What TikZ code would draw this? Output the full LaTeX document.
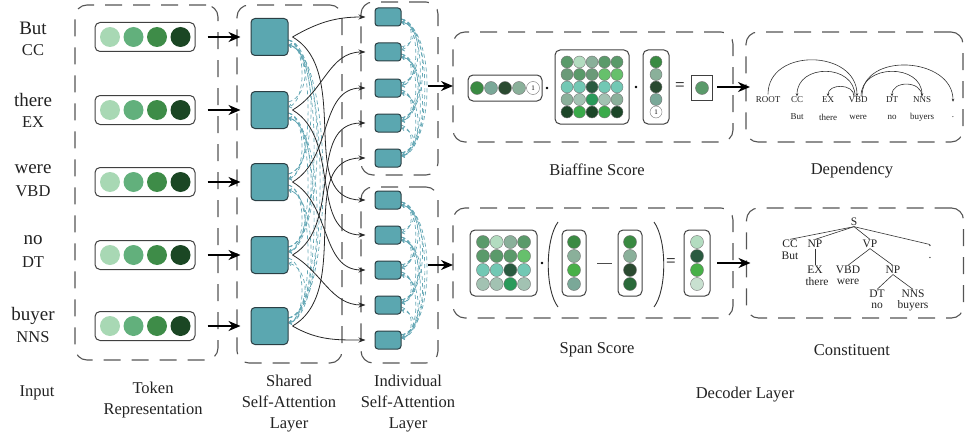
\documentclass[tikz,border=0pt]{standalone}
\usepackage{fontspec}
\setmainfont{Liberation Serif}
\usetikzlibrary{arrows.meta}
\definecolor{tk1}{HTML}{A8D8B4}
\definecolor{tk2}{HTML}{62B07C}
\definecolor{tk3}{HTML}{3E8C48}
\definecolor{tk4}{HTML}{1B4724}
\definecolor{gA}{HTML}{5A9A6A}
\definecolor{gB}{HTML}{B3DCC0}
\definecolor{gC}{HTML}{8AB09A}
\definecolor{gD}{HTML}{66C06C}
\definecolor{gE}{HTML}{72C8B4}
\definecolor{gF}{HTML}{2A5A40}
\definecolor{gG}{HTML}{A2C2B2}
\definecolor{gH}{HTML}{2A9A5A}
\definecolor{gI}{HTML}{1C4628}
\definecolor{gJ}{HTML}{3AAA4A}
\definecolor{gK}{HTML}{3A8A42}
\definecolor{gL}{HTML}{7AA898}
\definecolor{gM}{HTML}{2A4A30}
\definecolor{gN}{HTML}{C8E0D0}
\definecolor{gO}{HTML}{48B048}
\definecolor{gP}{HTML}{2A6A3A}
\definecolor{gQ}{HTML}{6A9A78}
\definecolor{sqfill}{HTML}{5BA7B0}
\definecolor{sqline}{HTML}{2B3F44}
\definecolor{attc}{HTML}{62A6B4}
\definecolor{dashc}{HTML}{555555}
\definecolor{txt}{HTML}{222222}
\begin{document}
\begin{tikzpicture}[x=1pt,y=-1pt,
  dbox/.style={draw=dashc, line width=1.1pt, dash pattern=on 17pt off 11pt, rounded corners=12pt, inner sep=0pt, outer sep=0pt},
  vecbox/.style={draw=black!75, line width=1pt, rounded corners=5pt, inner sep=0pt},
  tball/.style={circle, inner sep=0pt, minimum size=20pt},
  ball/.style={circle, draw=black!55, line width=0.4pt, inner sep=0pt, minimum size=12pt},
  sball/.style={circle, draw=black!55, line width=0.4pt, inner sep=0pt, minimum size=13pt},
  sq/.style={draw=sqline, fill=sqfill, rounded corners=4pt, line width=1pt, minimum width=37pt, minimum height=37pt, inner sep=0pt},
  isq/.style={draw=sqline, fill=sqfill, rounded corners=3pt, line width=1pt, minimum width=26pt, minimum height=18pt, inner sep=0pt},
  conn/.style={-{Stealth[length=7pt,width=5pt]}, line width=0.8pt, black!85},
  big/.style={-{Stealth[length=12pt,width=10pt]}, line width=1.6pt, black},
  att/.style={draw=attc, dash pattern=on 4pt off 3pt, line width=0.7pt, -{Straight Barb[length=2.5pt,width=4pt]}},
  word/.style={font=\fontsize{19}{19}\selectfont, text=txt, inner sep=0pt},
  tag/.style={font=\fontsize{16.5}{16.5}\selectfont, text=txt, inner sep=0pt},
  lab/.style={font=\fontsize{16.5}{21}\selectfont, text=txt, align=center, inner sep=0pt},
  dtag/.style={font=\fontsize{9}{9}\selectfont, text=txt, inner sep=0.5pt},
  ctag/.style={font=\fontsize{11.5}{11.5}\selectfont, text=txt, inner sep=0.6pt},
  sym/.style={font=\fontsize{17}{17}\selectfont, inner sep=0pt},
  cdot/.style={circle, fill=black, inner sep=0pt, minimum size=2.6pt},
  tline/.style={line width=0.6pt, black!80},
  deparc/.style={line width=0.6pt, black!80, -{Stealth[length=3pt,width=2.6pt]}}
]
\useasboundingbox (0,0) rectangle (966,436);

% ---------- dashed group boxes ----------
\node[dbox, minimum width=143pt, minimum height=355pt] (tokbox) at (146.5,182.5) {};
\node[dbox, minimum width=105pt, minimum height=358pt] (shbox) at (289.5,184) {};
\node[dbox, minimum width=77pt, minimum height=173pt] (ubox) at (399.5,88.5) {};
\node[dbox, minimum width=77pt, minimum height=176pt] (lbox) at (399.5,275) {};
\node[dbox, minimum width=280pt, minimum height=110pt] (biabox) at (593,87) {};
\node[dbox, minimum width=280pt, minimum height=110pt] (spanbox) at (593,263) {};
\node[dbox, minimum width=217pt, minimum height=110pt] (depbox) at (854.5,87) {};
\node[dbox, minimum width=217pt, minimum height=110pt] (conbox) at (855,263) {};

% ---------- input words ----------
\node[word] (w1) at (33,28) {But};   \node[tag] (p1) at (33,50) {CC};
\node[word] (w2) at (33,100) {there}; \node[tag] (p2) at (33,122) {EX};
\node[word] (w3) at (33,169) {were};  \node[tag] (p3) at (33,191) {VBD};
\node[word] (w4) at (33,240) {no};    \node[tag] (p4) at (33,262) {DT};
\node[word] (w5) at (33,316) {buyer}; \node[tag] (p5) at (33,337) {NNS};

% ---------- token vectors ----------
\foreach \i/\y in {1/37,2/110,3/182,4/255,5/326} {
  \node[vecbox, minimum width=100pt, minimum height=29pt] (tv\i) at (145,\y) {};
  \foreach \c [count=\k from 0] in {tk1,tk2,tk3,tk4}
    \node[tball, fill=\c] (tc\i\k) at ({110+\k*23.5},\y) {};
}

% attention arcs (shared)
\foreach \i/\y in {1/37,2/110,3/182,4/255,5/326}
  \node[sq, draw=none, fill=none] (s\i) at (269.5,\y) {};
\foreach \i in {1,...,4} {
  \pgfmathtruncatemacro\ii{\i+1}
  \foreach \j in {\ii,...,5} {
    \pgfmathsetmacro\bb{10+8*(\j-\i)}
    \pgfmathsetmacro\bc{14+8*(\j-\i)}
    \draw[att] ([yshift=-3pt]s\i.east) .. controls +(\bb,6) and +(\bb,-6) .. ([yshift=3pt]s\j.east);
    \draw[att] ([yshift=8pt]s\j.east) .. controls +(\bc,-6) and +(\bc,6) .. ([yshift=-8pt]s\i.east);
  }
}
\foreach \i/\y in {1/37,2/110,3/182,4/255,5/326}
  \node[sq] (s\i) at (269.5,\y) {};

% individual squares
\foreach \i/\y in {1/17,2/52,3/88,4/123,5/158}
  \node[isq, draw=none, fill=none] (u\i) at (388,\y) {};
\foreach \i/\y in {1/200,2/235,3/270,4/305,5/340}
  \node[isq, draw=none, fill=none] (l\i) at (388,\y) {};
\foreach \p in {u,l} {
  \foreach \i in {1,...,4} {
    \pgfmathtruncatemacro\ii{\i+1}
    \foreach \j in {\ii,...,5} {
      \pgfmathsetmacro\bb{7+6*(\j-\i)}
      \pgfmathsetmacro\bc{10+6*(\j-\i)}
      \draw[att] ([yshift=-2pt]\p\i.east) .. controls +(\bb,4) and +(\bb,-4) .. ([yshift=2pt]\p\j.east);
      \draw[att] ([yshift=5pt]\p\j.east) .. controls +(\bc,-4) and +(\bc,4) .. ([yshift=-5pt]\p\i.east);
    }
  }
}
\foreach \i/\y in {1/17,2/52,3/88,4/123,5/158}
  \node[isq] (u\i) at (388,\y) {};
\foreach \i/\y in {1/200,2/235,3/270,4/305,5/340}
  \node[isq] (l\i) at (388,\y) {};

% token -> shared
\foreach \i in {1,...,5}
  \draw[big] ([xshift=12pt]tv\i.east) -- ([xshift=-10pt]s\i.west);

% shared -> individual
\foreach \i in {1,...,5} {
  \draw[conn] ([xshift=4pt]s\i.east) to[out=30,in=180] ([xshift=-9pt]u\i.west);
  \draw[conn] ([xshift=4pt]s\i.east) to[out=-30,in=180] ([xshift=-9pt]l\i.west);
}

% individual -> decoder
\coordinate (ua) at (428,86);
\coordinate (la) at (428,265);
\draw[big] (ua) -- (ua -| biabox.west);
\draw[big] (la) -- (la -| spanbox.west);

% ---------- Biaffine score ----------
\node[vecbox, minimum width=74pt, minimum height=26pt] (rv) at (505,88) {};
\foreach \c [count=\k from 0] in {gK,gL,gM,gC}
  \node[sball, fill=\c] (rvc\k) at ({477+\k*14},88) {};
\node[sball, fill=white, font=\fontsize{7}{7}\selectfont] (rvc4) at (533,88) {1};
\node[cdot] (dot1) at (547,88) {};
\node[vecbox, minimum width=74pt, minimum height=74pt] (bm) at (592,87) {};
\foreach \r/\cl in {0/{gA,gB,gC,gA,gA},1/{gQ,gA,gQ,gD,gD},2/{gE,gE,gF,gE,gE},3/{gC,gG,gH,gG,gC},4/{gI,gJ,gI,gJ,gI}} {
  \foreach \c [count=\k from 0] in \cl
    \node[ball, fill=\c] (bm\r\k) at ({592+(\k-2)*12.5},{87+(\r-2)*12.5}) {};
}
\node[cdot] (dot2) at (636,87) {};
\node[vecbox, minimum width=26pt, minimum height=74pt] (cv) at (656,87) {};
\foreach \c [count=\k from 0] in {gK,gC,gM,gL}
  \node[ball, fill=\c] (cvc\k) at (656,{62+\k*12.5}) {};
\node[ball, fill=white, font=\fontsize{7}{7}\selectfont] (cvc4) at (656,112) {1};
\node[sym] (eq1) at (680,87) {=};
\node[draw=black!75, line width=1pt, inner sep=0pt, minimum width=21pt, minimum height=25pt] (ob) at (702,88) {};
\node[sball, fill=gA] (obc) at (702,88) {};

% ---------- Span score ----------
\node[vecbox, minimum width=67pt, minimum height=66pt] (sm) at (503.5,263) {};
\foreach \r/\cl in {0/{gA,gB,gC,gA},1/{gA,gA,gA,gD},2/{gE,gE,gF,gE},3/{gG,gG,gH,gG}} {
  \foreach \c [count=\k from 0] in \cl
    \node[sball, fill=\c] (sm\r\k) at ({503.5+(\k-1.5)*13.7},{263+(\r-1.5)*14}) {};
}
\node[cdot] (dot3) at (542,263) {};
\draw[line width=0.9pt, black!80] (558,222) .. controls (545,240) and (545,290) .. (558,307);
\draw[line width=0.9pt, black!80] (654,222) .. controls (667,240) and (667,290) .. (654,307);
\node[vecbox, minimum width=24pt, minimum height=66pt] (sv1) at (574,263) {};
\foreach \c [count=\k from 0] in {gK,gC,gO,gL}
  \node[sball, fill=\c] (sv1c\k) at (574,{242+\k*14}) {};
\draw[line width=0.8pt, black!70] (597,263) -- (612,263);
\node[vecbox, minimum width=24pt, minimum height=66pt] (sv2) at (630,263) {};
\foreach \c [count=\k from 0] in {gK,gC,gM,gP}
  \node[sball, fill=\c] (sv2c\k) at (630,{242+\k*14}) {};
\node[sym] (eq2) at (671,263) {=};
\node[vecbox, minimum width=26pt, minimum height=66pt] (sv3) at (697,263) {};
\foreach \c [count=\k from 0] in {gB,gF,gO,gN}
  \node[sball, fill=\c] (sv3c\k) at (697,{242+\k*14}) {};

% decoder -> outputs
\draw[big] ([xshift=-16pt]biabox.east) -- ([xshift=4pt]depbox.west);
\draw[big] ([xshift=-16pt]spanbox.east) -- ([xshift=4pt]conbox.west);

% ---------- Dependency ----------
\foreach \n/\x/\t in {ROOT/768/ROOT,CC/797/CC,EX/828/EX,VBD/858/VBD,DT/892/DT,NNS/922/NNS,PU/953/.}
  \node[dtag] (d\n) at (\x,100) {\t};
\foreach \n/\x/\w in {CC/797/But,EX/828/there,VBD/858/were,DT/892/no,NNS/922/buyers,PU/953/.}
  \node[dtag] (dw\n) at (\x,117) {\w};
\draw[deparc] ([yshift=2pt]dROOT.north) .. controls +(0,-47) and +(0,-47) .. ([xshift=-1pt]dVBD.north);
\draw[deparc] ([xshift=-3pt]dVBD.north) .. controls +(0,-33) and +(0,-33) .. (dCC.north);
\draw[deparc] ([xshift=-4pt]dVBD.north) .. controls +(0,-13) and +(0,-13) .. (dEX.north);
\draw[deparc] ([xshift=3pt]dVBD.north) .. controls +(0,-33) and +(0,-33) .. (dNNS.north);
\draw[deparc] ([xshift=4pt]dVBD.north) .. controls +(0,-45) and +(0,-45) .. ([yshift=-3pt]dPU.north);
\draw[deparc] (dNNS.north) .. controls +(0,-16) and +(0,-16) .. (dDT.north);

% ---------- Constituent ----------
\node[ctag] (cS) at (854,222) {S};
\node[ctag] (cCC) at (790,244) {CC};
\node[ctag] (cBut) at (790,256) {But};
\node[ctag] (cNPa) at (815,244) {NP};
\node[ctag] (cEX) at (815,270) {EX};
\node[ctag] (cthere) at (817,282) {there};
\node[ctag] (cVP) at (870,244) {VP};
\node[ctag] (cVBD) at (848,270) {VBD};
\node[ctag] (cwere) at (848,282) {were};
\node[ctag] (cNPb) at (893,270) {NP};
\node[ctag] (cDT) at (877,294) {DT};
\node[ctag] (cno) at (877,306) {no};
\node[ctag] (cNNS) at (913,294) {NNS};
\node[ctag] (cbuyers) at (913,306) {buyers};
\node[ctag] (cPU) at (930,246) {.};
\node[ctag] (cPUw) at (930,258) {.};
\draw[tline] (cS.south) -- (cCC.north);
\draw[tline] (cS.south) -- (cNPa.north);
\draw[tline] (cS.south) -- (cVP.north);
\draw[tline] (cS.south) -- (cPU.north);
\draw[tline] (cNPa.south) -- (cEX.north);
\draw[tline] (cVP.south) -- (cVBD.north);
\draw[tline] (cVP.south) -- (cNPb.north);
\draw[tline] (cNPb.south) -- (cDT.north);
\draw[tline] (cNPb.south) -- (cNNS.north);

% ---------- labels ----------
\node[lab] (lInput) at (37,393) {Input};
\node[lab] (lTok) at (153,400) {Token\\Representation};
\node[lab] (lSh) at (289,404) {Shared\\Self-Attention\\Layer};
\node[lab] (lInd) at (408,404) {Individual\\Self-Attention\\Layer};
\node[lab] (lBia) at (597,170) {Biaffine Score};
\node[lab] (lDep) at (852,171) {Dependency};
\node[lab] (lSpan) at (597,350) {Span Score};
\node[lab] (lCon) at (852,350) {Constituent};
\node[lab] (lDec) at (745,395) {Decoder Layer};
\end{tikzpicture}
\end{document}
